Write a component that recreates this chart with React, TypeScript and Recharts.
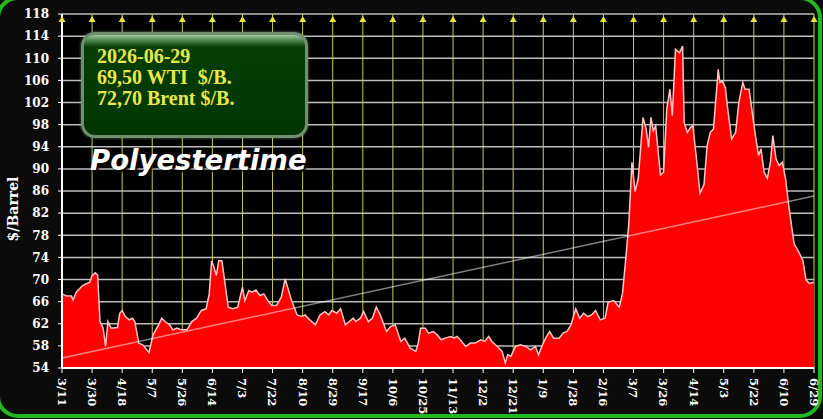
import React from 'react';
import { ComposedChart, Area, Line, Scatter, XAxis, YAxis, CartesianGrid } from 'recharts';

// x ticks: every 19 days from 2025-03-11 to 2026-06-29
const tickLabels = [
  '3/11', '3/30', '4/18', '5/7', '5/26', '6/14', '7/3', '7/22', '8/10', '8/29', '9/17', '10/6', '10/25',
  '11/13', '12/2', '12/21', '1/9', '1/28', '2/16', '3/7', '3/26', '4/14', '5/3', '5/22', '6/10', '6/29',
];
const tickDays = [
  0, 19, 38, 57, 76, 95, 114, 133, 152, 171, 190, 209, 228,
  247, 266, 285, 304, 323, 342, 361, 380, 399, 418, 437, 456, 475,
];
const yTicks = [54, 58, 62, 66, 70, 74, 78, 82, 86, 90, 94, 98, 102, 106, 110, 114, 118];

// days since 3/11 and WTI $/barrel
const priceDays = [
  0, 3, 6, 7, 9, 13, 17.5, 19, 21, 22.5, 24, 26, 27.5, 29, 31, 35, 36.5, 38, 40, 42.5,
  44.5, 46, 48.5, 51, 53.5, 55, 57.5, 61, 63, 65, 68, 70, 72.5, 75.5, 79, 82, 85, 88, 91, 93,
  94.5, 96, 97.5, 99, 101, 103, 105, 108, 111, 114, 115.5, 118, 120, 122.5, 125, 127.5, 130, 132.5, 135.5, 138.5,
  141, 142.5, 145, 148.5, 151.5, 153.5, 156.5, 160, 163, 166, 168.5, 170.5, 173.5, 176, 179, 181.5, 184, 185.5, 188.5, 190.5,
  193.5, 196, 198.5, 201, 205, 207.5, 210.5, 214, 216.5, 220, 223.5, 225, 226.5, 229.5, 231.5, 234.5, 237, 239.5, 242, 245.5,
  247.5, 249.5, 251.5, 255, 258, 261, 264.5, 267, 269.5, 271.5, 275, 278, 280, 281.5, 283.5, 286.5, 289.5, 293, 296, 299,
  301, 303.5, 305.5, 308, 310.5, 314, 316.5, 319, 321.5, 324.5, 327, 329.5, 332, 334.5, 337, 340, 343, 345, 348.5, 352,
  354, 356, 358, 360, 362, 364, 367, 369, 370.5, 372, 373.5, 375, 378, 380, 382, 384, 385.5, 387.5, 390, 392,
  393, 395, 397, 398.5, 401, 403, 405.5, 407.5, 409.5, 411.5, 414.5, 415.5, 417, 419, 420.5, 423, 425.5, 427.5, 430, 431.5,
  434, 436, 438, 440, 441.5, 443.5, 445.5, 447.5, 449, 451, 453, 455, 457, 459, 461, 462.5, 465, 468, 470, 472, 475,
];
const wtiPrices = [
  67.4, 67.0, 67.0, 66.3, 67.7, 68.9, 69.5, 70.7, 71.2, 70.8, 62.4, 61.2, 57.9, 62.4, 61.2, 61.3, 63.9, 64.4, 63.3, 62.7,
  63.0, 62.4, 58.5, 58.2, 57.3, 56.8, 60.0, 61.8, 63.0, 62.4, 61.8, 60.9, 61.2, 60.9, 60.9, 62.4, 63.0, 64.4, 64.7, 67.4,
  73.4, 72.2, 70.7, 73.4, 73.4, 69.2, 65.0, 64.7, 65.0, 68.6, 66.2, 68.0, 67.7, 68.1, 67.1, 67.4, 66.2, 65.3, 65.3, 66.8,
  70.1, 68.6, 66.2, 63.6, 63.3, 63.6, 62.7, 61.8, 63.6, 64.2, 63.6, 64.4, 63.9, 64.7, 61.8, 62.4, 63.0, 62.4, 63.0, 64.2,
  62.4, 63.0, 65.0, 63.6, 60.6, 61.5, 61.8, 58.8, 59.4, 57.6, 57.0, 58.5, 61.2, 61.2, 60.3, 60.6, 60.0, 59.1, 59.4, 59.7,
  59.4, 59.7, 59.1, 57.9, 58.5, 58.5, 59.1, 58.8, 59.7, 58.8, 57.9, 57.0, 54.9, 56.4, 56.1, 57.9, 58.2, 57.9, 57.3, 57.9,
  56.4, 58.2, 59.4, 60.6, 59.4, 59.4, 60.3, 60.6, 61.8, 64.7, 63.0, 63.9, 63.3, 63.6, 64.4, 62.7, 63.0, 65.9, 66.2, 65.0,
  67.4, 73.4, 80.0, 91.2, 85.9, 88.3, 99.3, 97.2, 93.9, 99.3, 96.9, 97.8, 88.9, 89.4, 100.8, 104.4, 99.6, 111.6, 111.0, 112.2,
  98.4, 96.6, 97.5, 97.8, 91.2, 85.6, 87.1, 94.2, 96.6, 97.2, 108.0, 105.6, 105.9, 104.7, 100.8, 95.4, 96.6, 102.0, 105.6, 104.4,
  104.4, 100.2, 96.0, 92.4, 93.6, 89.4, 88.3, 91.2, 96.0, 91.8, 90.6, 91.2, 88.3, 83.5, 79.3, 76.4, 75.2, 73.4, 69.9, 69.3, 69.5,
];

// straight trend line endpoints
const trendDays = [0, 475];
const trendPrices = [55.8, 85.1];

const data = priceDays.map((day, i) => ({ day, wti: wtiPrices[i] }));
const trendData = trendDays.map((day, i) => ({ day, trend: trendPrices[i] }));
const markers = tickDays.map((day) => ({ day, top: yTicks[yTicks.length - 1] }));

const tickFont = "'DejaVu Serif', serif";

const XTick = ({ x, y, payload }: any) => {
  const idx = tickDays.indexOf(payload.value);
  return (
    <text
      x={x}
      y={y}
      dy="0.36em"
      transform={`rotate(90, ${x}, ${y})`}
      textAnchor="start"
      fill="#fff"
      fontSize={11.5}
      fontWeight="bold"
      fontFamily={tickFont}
    >
      {idx >= 0 ? tickLabels[idx] : ''}
    </text>
  );
};

const Triangle = ({ cx, cy }: any) => (
  <polygon
    points={`${cx - 3.5},${cy + 8} ${cx + 3.5},${cy + 8} ${cx},${cy + 2}`}
    fill="#e6e63a"
  />
);

export default function App() {
  return (
    <div
      style={{
        position: 'fixed',
        left: 0,
        top: 0,
        width: 823,
        height: 419,
        overflow: 'hidden',
        background: '#0b0b0b',
      }}
    >
      <div
        style={{
          position: 'absolute',
          left: -4,
          top: -4,
          width: 826,
          height: 422,
          boxSizing: 'border-box',
          border: '4px solid #22b822',
          borderRadius: 22,
        }}
      />
      <ComposedChart
        width={823}
        height={419}
        data={data}
        margin={{ top: 14, right: 9, bottom: 6, left: 0 }}
        style={{ position: 'absolute', left: 0, top: 0 }}
      >
        <CartesianGrid vertical={false} stroke="#bdbdbd" strokeWidth={1.5} fill="#000" />
        <CartesianGrid horizontal={false} stroke="#c9c95a" strokeWidth={1} />
        <XAxis
          dataKey="day"
          type="number"
          domain={[0, 475]}
          ticks={tickDays}
          interval={0}
          height={45}
          tick={<XTick />}
          tickSize={5}
          tickMargin={5}
          stroke="#fff"
          axisLine={{ stroke: '#fff', strokeWidth: 2 }}
          tickLine={{ stroke: '#fff' }}
        />
        <YAxis
          type="number"
          domain={[54, 118]}
          ticks={yTicks}
          interval={0}
          width={62}
          tickSize={4}
          tickMargin={9}
          allowDataOverflow
          axisLine={{ stroke: '#fff', strokeWidth: 2 }}
          tickLine={{ stroke: '#fff' }}
          tick={{ fill: '#fff', fontSize: 12, fontWeight: 'bold', fontFamily: tickFont }}
        />
        <Area
          dataKey="wti"
          type="linear"
          fill="#ff0000"
          fillOpacity={1}
          stroke="#ffc4c4"
          strokeWidth={1.5}
          isAnimationActive={false}
        />
        <Line
          data={trendData}
          dataKey="trend"
          type="linear"
          stroke="rgba(255,255,255,0.5)"
          strokeWidth={1.5}
          dot={false}
          isAnimationActive={false}
        />
        <Scatter data={markers} dataKey="top" shape={<Triangle />} isAnimationActive={false} />
      </ComposedChart>

      <div
        style={{
          position: 'absolute',
          left: 81,
          top: 32,
          width: 227,
          height: 106,
          boxSizing: 'border-box',
          borderRadius: 14,
          border: '3px solid #6f8f6f',
          background: 'linear-gradient(to bottom, #a7c9a7 0px, #4f8a4f 5px, #063f06 12px, #003500 100%)',
          boxShadow: '0 0 3px rgba(160,200,160,0.6)',
        }}
      />
      <div
        style={{
          position: 'absolute',
          left: 97,
          top: 46,
          fontFamily: "'Liberation Serif', serif",
          fontWeight: 'bold',
          fontSize: 20,
          lineHeight: '21px',
          color: '#e8e84e',
          whiteSpace: 'pre',
        }}
      >
        <div>2026-06-29</div>
        <div>{'69,50 WTI  $/B.'}</div>
        <div>72,70 Brent $/B.</div>
      </div>
      <div
        style={{
          position: 'absolute',
          left: 90,
          top: 144,
          fontFamily: "'DejaVu Sans', sans-serif",
          fontStyle: 'italic',
          fontWeight: 'bold',
          fontSize: 27.5,
          lineHeight: '32px',
          color: '#fff',
          textShadow: '2px 2px 2px #000',
          whiteSpace: 'nowrap',
        }}
      >
        Polyestertime
      </div>
      <div
        style={{
          position: 'absolute',
          left: -37,
          top: 201,
          width: 100,
          textAlign: 'center',
          transform: 'rotate(-90deg)',
          fontFamily: "'DejaVu Serif', serif",
          fontWeight: 'bold',
          fontSize: 14,
          lineHeight: '16px',
          color: '#fff',
        }}
      >
        $/Barrel
      </div>
    </div>
  );
}
